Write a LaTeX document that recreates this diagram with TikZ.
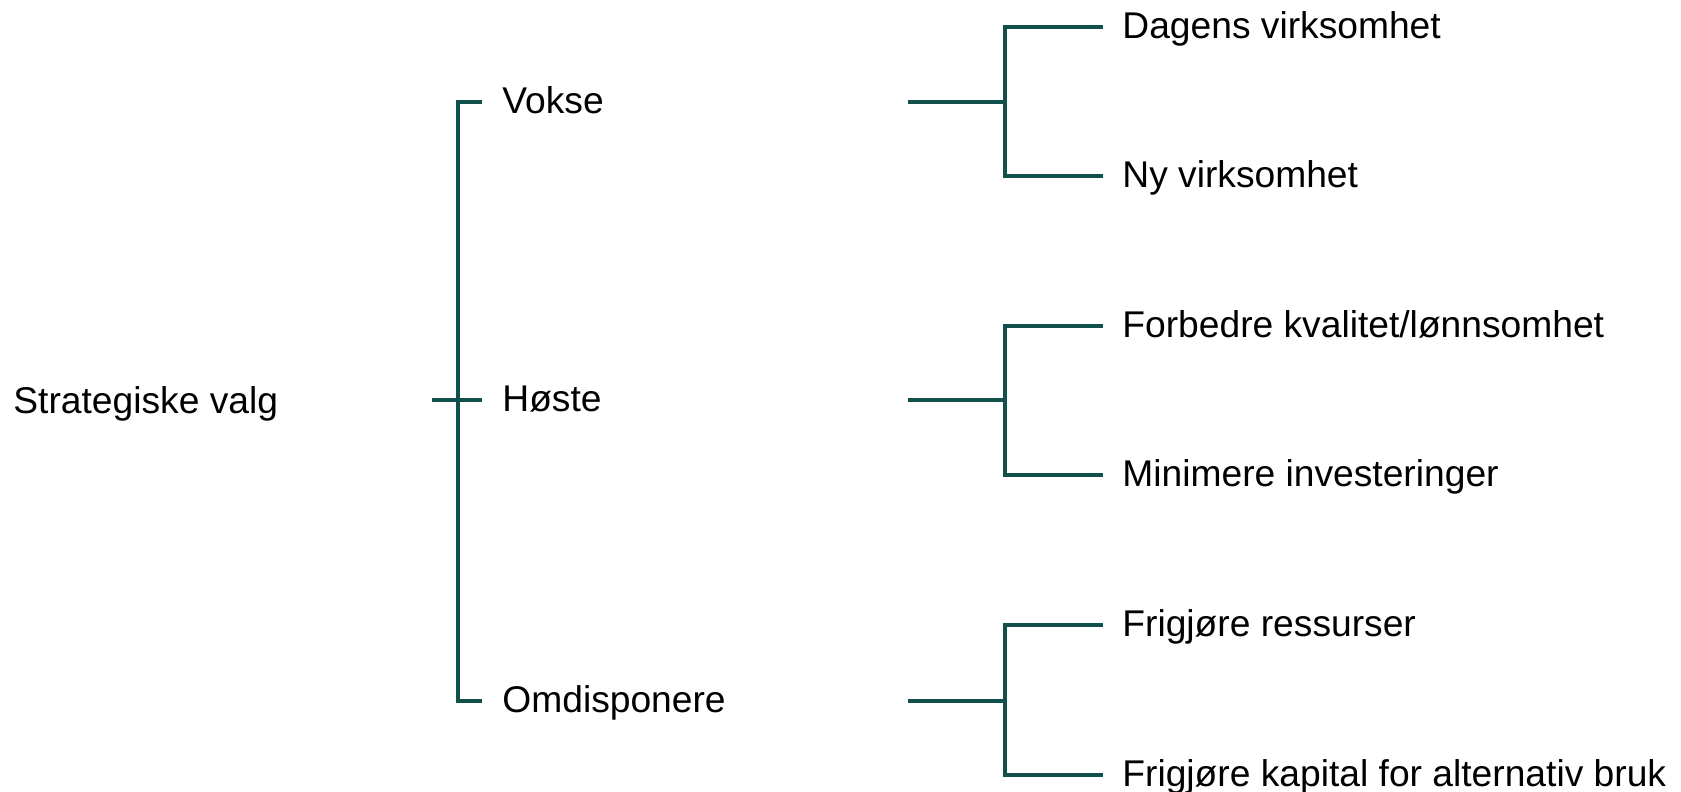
\documentclass[tikz,border=0pt]{standalone}
\usepackage{fontspec}
\setmainfont{Liberation Sans}
\definecolor{treeline}{RGB}{18,80,75}
\begin{document}
\begin{tikzpicture}[x=0.5pt,y=-0.5pt]
	\tikzstyle{choice}=[anchor=west,inner ysep=0pt,inner xsep=10pt,text height=15pt,text depth=3.8pt,font=\fontsize{18.6}{22}\selectfont]
	\tikzstyle{leaf}=[choice,inner xsep=9.5pt]
	\tikzstyle{branch}=[draw=treeline,line width=1.8pt]
	\useasboundingbox (0,0) rectangle (1681,792);
	\node[choice,inner xsep=0pt](root) at (13,402) {Strategiske valg};
	\coordinate (stub) at (432,400);
	\node[choice](vokse) at (482,102) {Vokse};
	\node[choice](hoste) at (482,400) {Høste};
	\node[choice](omdisp) at (482,701) {Omdisponere};
	\node[leaf](dagens) at (1103,27) {Dagens virksomhet};
	\node[leaf](ny) at (1103,176) {Ny virksomhet};
	\node[leaf](forbedre) at (1103,326) {Forbedre kvalitet/lønnsomhet};
	\node[leaf](minimere) at (1103,475) {Minimere investeringer};
	\node[leaf](ressurser) at (1103,625) {Frigjøre ressurser};
	\node[leaf](kapital) at (1103,775) {Frigjøre kapital for alternativ bruk};
	\coordinate (vokse-out) at (908,102);
	\coordinate (hoste-out) at (908,400);
	\coordinate (omdisp-out) at (908,701);
	% first level
	\draw[branch] (vokse.west) -- ++(-24,0) |- (omdisp.west);
	\draw[branch] (stub) -- (hoste.west);
	% second level
	\draw[branch] (dagens.west) -- ++(-98,0) |- (ny.west);
	\draw[branch] (vokse-out) -- (1005,102);
	\draw[branch] (forbedre.west) -- ++(-98,0) |- (minimere.west);
	\draw[branch] (hoste-out) -- (1005,400);
	\draw[branch] (ressurser.west) -- ++(-98,0) |- (kapital.west);
	\draw[branch] (omdisp-out) -- (1005,701);
\end{tikzpicture}
\end{document}
